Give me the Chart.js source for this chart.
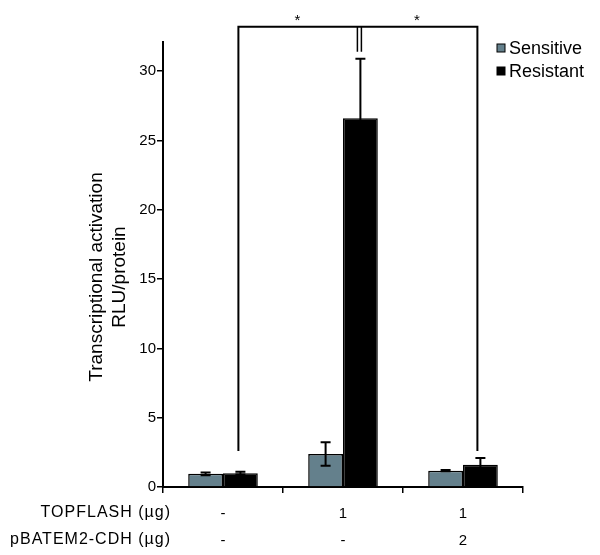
<!DOCTYPE html>
<html>
<head>
<meta charset="utf-8">
<script src="https://cdn.jsdelivr.net/npm/chart.js@4"></script>
<style>
  html, body { margin: 0; padding: 0; background: #fff; }
  #wrap { width: 600px; height: 555px; position: relative; }
</style>
</head>
<body>
<div id="wrap"><canvas id="chart"></canvas></div>
<script>
// data
const categories = [['-', '-'], ['1', '-'], ['1', '2']];
const rowTitles = ['TOPFLASH (\u00b5g)', 'pBATEM2-CDH (\u00b5g)'];
const yTitle = ['Transcriptional activation', 'RLU/protein'];
const sensitive = [0.95, 2.38, 1.18];
const sensitiveErr = [0.1, 0.85, 0.05];
const resistant = [1.0, 26.6, 1.6];
const resistantErr = [0.1, 4.3, 0.5];
const yTicks = [0, 5, 10, 15, 20, 25, 30];

// significance bracket (black bars of group 1 and 3, joined to group 2)
const bracketTop = 33.2;
const bracketEnds = [2.6, 2.6];
const bracketMidEnd = 31.4;
const stars = ['*', '*'];

const FONT = '"Liberation Sans", Arial, sans-serif';

const extras = {
  id: 'extras',
  afterDatasetsDraw(chart) {
    const ctx = chart.ctx;
    const y = chart.scales.y;
    ctx.save();
    ctx.strokeStyle = '#000';
    ctx.lineWidth = 2;

    // error bars
    [[sensitiveErr, 0], [resistantErr, 1]].forEach(([errs, di]) => {
      const meta = chart.getDatasetMeta(di);
      meta.data.forEach((bar, i) => {
        const v = chart.data.datasets[di].data[i];
        const cx = bar.x;
        const top = y.getPixelForValue(v + errs[i]);
        const bot = y.getPixelForValue(Math.max(0, v - errs[i]));
        ctx.beginPath();
        ctx.moveTo(cx, top); ctx.lineTo(cx, bot);
        ctx.moveTo(cx - 5, top); ctx.lineTo(cx + 5, top);
        ctx.moveTo(cx - 5, bot); ctx.lineTo(cx + 5, bot);
        ctx.stroke();
      });
    });

    // bracket
    const rMeta = chart.getDatasetMeta(1);
    const xl = rMeta.data[0].x - 2, xm = rMeta.data[1].x, xr = rMeta.data[2].x - 3;
    const yt = y.getPixelForValue(bracketTop);
    ctx.beginPath();
    ctx.moveTo(xl, y.getPixelForValue(bracketEnds[0]));
    ctx.lineTo(xl, yt);
    ctx.lineTo(xr, yt);
    ctx.lineTo(xr, y.getPixelForValue(bracketEnds[1]));
    ctx.stroke();
    const ym = y.getPixelForValue(bracketMidEnd);
    ctx.lineWidth = 1.5;
    ctx.beginPath();
    ctx.moveTo(xm - 3, yt); ctx.lineTo(xm - 3, ym);
    ctx.moveTo(xm + 1, yt); ctx.lineTo(xm + 1, ym);
    ctx.stroke();

    ctx.fillStyle = '#000';
    ctx.font = '15px ' + FONT;
    ctx.textAlign = 'center';
    ctx.textBaseline = 'middle';
    ctx.fillText(stars[0], (xl + xm) / 2 - 2, yt - 6);
    ctx.fillText(stars[1], (xm + xr) / 2 - 2, yt - 6);

    // legend
    ctx.font = '18px ' + FONT;
    ctx.textAlign = 'left';
    chart.data.datasets.forEach((ds, i) => {
      const ly = 48 + i * 23;
      ctx.fillStyle = ds.backgroundColor;
      ctx.fillRect(497, ly - 4, 8, 8);
      ctx.lineWidth = 1;
      ctx.strokeRect(497, ly - 4, 8, 8);
      ctx.fillStyle = '#000';
      ctx.fillText(ds.label, 509, ly + 1);
    });

    // y axis title
    ctx.save();
    ctx.translate(97, 277);
    ctx.rotate(-Math.PI / 2);
    ctx.font = '19px ' + FONT;
    ctx.textAlign = 'center';
    yTitle.forEach((t, i) => ctx.fillText(t, 0, i * 23));
    ctx.restore();

    // row titles under the axis
    ctx.font = '16px ' + FONT;
    ctx.textAlign = 'right';
    ctx.letterSpacing = '1px';
    rowTitles.forEach((t, i) => {
      ctx.fillText(t, 171, 513 + i * 27);
    });
    ctx.restore();
  }
};

new Chart(document.getElementById('chart').getContext('2d'), {
  type: 'bar',
  data: {
    labels: categories,
    datasets: [
      {
        label: 'Sensitive',
        data: sensitive,
        backgroundColor: '#64808c',
        borderColor: '#000',
        borderWidth: 1.5,
        barPercentage: 1,
        categoryPercentage: 0.58
      },
      {
        label: 'Resistant',
        data: resistant,
        backgroundColor: '#000',
        borderColor: '#000',
        borderWidth: 1.5,
        barPercentage: 1,
        categoryPercentage: 0.58
      }
    ]
  },
  options: {
    responsive: true,
    maintainAspectRatio: false,
    animation: false,
    layout: { padding: { top: 42, right: 77, left: 0, bottom: 0 } },
    plugins: {
      legend: { display: false },
      tooltip: { enabled: false }
    },
    scales: {
      y: {
        min: 0,
        max: 32.1,
        afterBuildTicks: function(scale) {
          scale.ticks = yTicks.map(v => ({ value: v }));
        },
        afterFit: function(scale) { scale.width = 163; },
        border: { color: '#000', width: 2 },
        grid: { drawOnChartArea: false, color: '#000', tickLength: 6, lineWidth: 1.5 },
        ticks: {
          color: '#000',
          padding: 1,
          font: { family: FONT, size: 15 }
        }
      },
      x: {
        afterFit: function(scale) { scale.height = 68; },
        border: { color: '#000', width: 2 },
        grid: { drawOnChartArea: false, color: '#000', tickLength: 6, lineWidth: 1.5, offset: true },
        ticks: {
          color: '#000',
          padding: 7,
          font: { family: FONT, size: 15, lineHeight: 1.8 },
          maxRotation: 0
        }
      }
    }
  },
  plugins: [extras]
});
</script>
</body>
</html>
